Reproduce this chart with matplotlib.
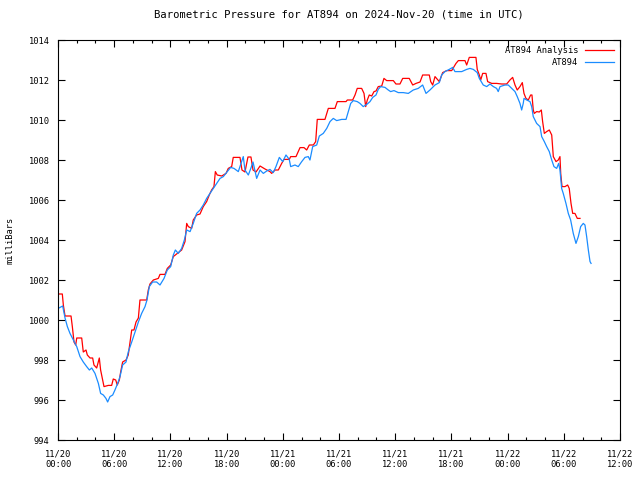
import numpy as np
import pandas as pd
import matplotlib
matplotlib.use('Agg')
import matplotlib.pyplot as plt
import matplotlib.dates as mdates

start = pd.Timestamp('2024-11-20 00:00')

# hours after 2024-11-20 00:00 UTC, pressure in mb
anal_hours = [0.1, 0.46, 0.57, 0.75, 1.39, 1.53, 1.71, 1.89, 2.0, 2.53, 2.7, 2.99, 3.13, 3.42, 3.7,
              3.84, 4.13, 4.41, 4.55, 4.77, 4.91, 5.37, 5.73, 5.9, 6.16, 6.33, 6.55, 6.69, 6.9, 7.26,
              7.5, 7.69, 7.87, 8.11, 8.33, 8.58, 8.75, 9.47, 9.64, 9.82, 10.18, 10.71, 10.89, 11.42,
              11.67, 12.03, 12.31, 12.74, 13.2, 13.56, 13.74, 13.91, 14.27, 14.44, 14.8, 15.16, 15.51,
              15.87, 16.15, 16.4, 16.65, 16.8, 17.0, 17.48, 17.94, 18.18, 18.54, 18.71, 19.43, 19.64,
              19.96, 20.28, 20.6, 20.82, 21.14, 21.57, 22.1, 22.63, 22.81, 23.17, 23.52, 23.88, 24.13,
              24.69, 24.84, 25.41, 25.84, 26.26, 26.55, 26.83, 27.26, 27.51, 27.68, 28.5, 28.86, 29.57,
              29.82, 30.75, 30.89, 31.46, 31.71, 31.95, 32.42, 32.67, 32.85, 33.02, 33.23, 33.49, 33.74,
              33.95, 34.19, 34.56, 34.8, 35.09, 35.8, 36.08, 36.51, 36.8, 37.5, 37.87, 38.22, 38.65,
              38.93, 39.64, 39.79, 40.0, 40.25, 40.71, 41.07, 41.5, 42.03, 42.49, 42.74, 43.45, 43.63,
              43.91, 44.62, 44.76, 44.98, 45.13, 45.34, 45.69, 45.87, 46.3, 46.83, 47.37, 47.9, 48.25,
              48.54, 48.79, 49.03, 49.32, 49.57, 49.75, 49.96, 50.21, 50.46, 50.6, 50.74, 50.85, 51.1,
              51.38, 51.6, 51.74, 51.92, 52.17, 52.45, 52.71, 52.88, 53.17, 53.41, 53.59, 53.67, 53.81,
              54.13, 54.41, 54.58, 54.77, 54.95, 55.19, 55.44, 55.73]
anal_mb = [1001.3, 1001.3, 1000.75, 1000.2, 1000.2, 999.67, 998.9, 998.75, 999.1, 999.1, 998.4, 998.5,
           998.25, 998.1, 998.1, 997.75, 997.6, 998.1, 997.5, 997.0, 996.67, 996.73, 996.73, 997.05,
           997.0, 996.75, 997.0, 997.4, 997.9, 998.0, 998.25, 998.9, 999.5, 999.5, 999.9, 1000.1,
           1001.0, 1001.0, 1001.5, 1001.8, 1002.0, 1002.08, 1002.28, 1002.28, 1002.58, 1002.75,
           1003.17, 1003.33, 1003.5, 1003.92, 1004.83, 1004.67, 1004.58, 1005.0, 1005.25, 1005.3,
           1005.67, 1005.92, 1006.25, 1006.5, 1006.67, 1007.42, 1007.25, 1007.2, 1007.33, 1007.58,
           1007.67, 1008.13, 1008.13, 1007.5, 1007.4, 1008.15, 1008.15, 1007.5, 1007.4, 1007.7,
           1007.55, 1007.42, 1007.33, 1007.5, 1007.5, 1007.83, 1008.03, 1008.03, 1008.17, 1008.17,
           1008.62, 1008.62, 1008.5, 1008.75, 1008.75, 1008.92, 1010.03, 1010.03, 1010.58, 1010.58,
           1010.92, 1010.92, 1011.0, 1011.0, 1011.25, 1011.58, 1011.58, 1011.33, 1010.67, 1011.0,
           1011.25, 1011.2, 1011.42, 1011.45, 1011.67, 1011.7, 1012.08, 1011.97, 1011.97, 1011.8,
           1011.8, 1012.08, 1012.08, 1011.75, 1011.83, 1011.9, 1012.25, 1012.25, 1011.92, 1011.75,
           1012.17, 1011.92, 1012.37, 1012.47, 1012.47, 1012.83, 1012.97, 1012.97, 1012.75, 1013.13,
           1013.13, 1012.53, 1012.25, 1012.0, 1012.33, 1012.33, 1011.92, 1011.83, 1011.83, 1011.8,
           1011.8, 1012.0, 1012.13, 1011.75, 1011.5, 1011.67, 1011.87, 1011.33, 1011.08, 1011.0,
           1011.25, 1011.25, 1010.5, 1010.33, 1010.42, 1010.4, 1010.5, 1009.92, 1009.33, 1009.42,
           1009.5, 1009.25, 1008.17, 1007.92, 1008.0, 1008.17, 1007.33, 1006.67, 1006.67, 1006.75,
           1006.58, 1005.83, 1005.33, 1005.33, 1005.08, 1005.08]

obs_hours = [0.1, 0.39, 0.5, 0.75, 1.0, 1.28, 1.64, 2.0, 2.35, 2.7, 3.06, 3.35, 3.6, 3.95, 4.31, 4.55,
             4.84, 5.12, 5.3, 5.55, 5.84, 6.08, 6.37, 6.62, 6.9, 7.26, 7.5, 7.87, 8.22, 8.58, 8.93,
             9.29, 9.5, 9.75, 10.1, 10.53, 10.89, 11.32, 11.67, 12.03, 12.31, 12.53, 12.84, 13.2,
             13.49, 13.74, 14.1, 14.44, 14.8, 15.16, 15.51, 15.87, 16.23, 16.58, 16.94, 17.3, 17.65,
             18.08, 18.43, 18.79, 19.25, 19.78, 19.96, 20.32, 20.6, 20.82, 21.21, 21.57, 21.92, 22.28,
             22.63, 22.98, 23.27, 23.63, 23.99, 24.34, 24.69, 24.84, 25.3, 25.65, 26.02, 26.37, 26.72,
             26.9, 27.19, 27.62, 27.9, 28.32, 28.69, 29.04, 29.39, 29.75, 30.29, 30.75, 30.99, 31.25,
             31.53, 31.95, 32.24, 32.59, 33.02, 33.31, 33.6, 33.95, 34.19, 34.45, 34.91, 35.26, 35.51,
             35.87, 36.33, 36.86, 37.4, 37.93, 38.46, 38.93, 39.29, 39.71, 40.25, 40.71, 40.96, 41.31,
             41.77, 42.14, 42.38, 43.1, 43.63, 43.98, 44.34, 44.76, 44.98, 45.4, 45.77, 46.12, 46.48,
             46.83, 47.0, 47.19, 47.72, 48.07, 48.44, 48.79, 49.03, 49.32, 49.5, 49.67, 49.75, 50.04,
             50.39, 50.57, 50.74, 51.1, 51.46, 51.64, 51.92, 52.17, 52.45, 52.71, 52.95, 53.24, 53.45,
             53.59, 53.77, 53.94, 54.23, 54.48, 54.73, 55.01, 55.3, 55.55, 55.8, 56.08, 56.26, 56.44,
             56.62, 56.8, 56.91]
obs_mb = [1000.6, 1000.67, 1000.7, 1000.1, 999.67, 999.33, 999.0, 998.67, 998.17, 997.9, 997.67,
          997.5, 997.6, 997.33, 996.83, 996.33, 996.25, 996.08, 995.9, 996.17, 996.25, 996.5, 996.83,
          997.17, 997.75, 997.9, 998.4, 998.9, 999.4, 999.9, 1000.33, 1000.67, 1001.0, 1001.67,
          1001.9, 1001.9, 1001.75, 1002.08, 1002.5, 1002.67, 1003.25, 1003.5, 1003.33, 1003.58,
          1004.0, 1004.5, 1004.42, 1004.83, 1005.33, 1005.5, 1005.75, 1006.08, 1006.33, 1006.58,
          1006.83, 1007.08, 1007.17, 1007.42, 1007.63, 1007.58, 1007.42, 1008.17, 1007.5, 1007.25,
          1007.6, 1007.9, 1007.08, 1007.5, 1007.33, 1007.45, 1007.53, 1007.37, 1007.67, 1008.13,
          1007.92, 1008.25, 1008.03, 1007.67, 1007.75, 1007.67, 1007.92, 1008.13, 1008.17, 1008.0,
          1008.67, 1008.75, 1009.2, 1009.33, 1009.58, 1009.92, 1010.08, 1009.97, 1010.03, 1010.03,
          1010.42, 1010.83, 1010.97, 1010.92, 1010.83, 1010.67, 1010.8, 1010.92, 1011.13, 1011.25,
          1011.53, 1011.67, 1011.63, 1011.5, 1011.42, 1011.47, 1011.37, 1011.37, 1011.33, 1011.5,
          1011.58, 1011.75, 1011.33, 1011.5, 1011.75, 1011.87, 1012.25, 1012.42, 1012.53, 1012.63,
          1012.42, 1012.42, 1012.53, 1012.58, 1012.53, 1012.37, 1012.08, 1011.75, 1011.67, 1011.8,
          1011.67, 1011.58, 1011.42, 1011.67, 1011.75, 1011.75, 1011.58, 1011.42, 1011.17, 1010.83,
          1010.5, 1010.83, 1011.08, 1011.0, 1010.92, 1010.67, 1010.17, 1009.83, 1009.67, 1009.17,
          1008.92, 1008.67, 1008.42, 1008.0, 1007.67, 1007.58, 1007.83, 1007.5, 1006.58, 1006.33,
          1005.83, 1005.33, 1005.0, 1004.33, 1003.83, 1004.17, 1004.67, 1004.83, 1004.75, 1004.17,
          1003.5, 1002.92, 1002.83]

anal_t = start + pd.to_timedelta(anal_hours, unit='h')
obs_t = start + pd.to_timedelta(obs_hours, unit='h')

plt.rcParams['font.family'] = ['DejaVu Sans Mono']
plt.rcParams['font.size'] = 6.3

fig = plt.figure(figsize=(6.4, 4.8), dpi=100)
ax = fig.add_axes([58/640, 40/480, 562/640, 400/480])

ax.plot(anal_t, anal_mb, color='#ff0000', lw=0.9, label='AT894 Analysis')
ax.plot(obs_t, obs_mb, color='#1a8cff', lw=0.9, label='AT894')

ax.set_xlim(start, start + pd.Timedelta(hours=60))
ax.set_ylim(994, 1014)
ax.set_yticks(np.arange(994, 1015, 2))

ax.xaxis.set_major_locator(mdates.HourLocator(byhour=[0, 6, 12, 18]))
ax.xaxis.set_minor_locator(mdates.HourLocator(interval=2))
ax.xaxis.set_major_formatter(mdates.DateFormatter('%m/%d\n%H:%M'))

ax.tick_params(which='both', direction='in', top=True, right=True, width=0.8)
ax.tick_params(which='major', length=5, pad=7)
ax.tick_params(which='minor', length=2.5)
ax.tick_params(axis='y', pad=6)
for s in ax.spines.values():
    s.set_linewidth(0.8)

ax.set_title('Barometric Pressure for AT894 on 2024-Nov-20 (time in UTC)', pad=16)
ax.set_ylabel('milliBars', labelpad=10)

ax.legend(loc='upper right', frameon=False, markerfirst=False, handlelength=3.4,
          borderaxespad=0.25, labelspacing=0.35, handletextpad=0.7)

fig.savefig('out.png', dpi=100)
